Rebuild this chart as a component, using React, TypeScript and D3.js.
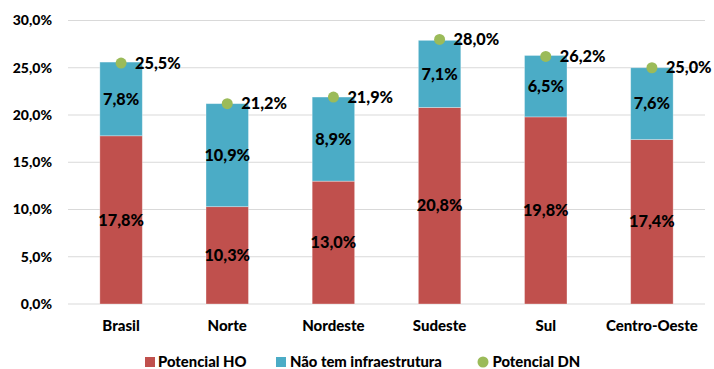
import React from "react";
import * as d3 from "d3";

const categories = ["Brasil", "Norte", "Nordeste", "Sudeste", "Sul", "Centro-Oeste"];
const potencialHO = [17.8, 10.3, 13.0, 20.8, 19.8, 17.4];
const naoTemInfra = [7.8, 10.9, 8.9, 7.1, 6.5, 7.6];
const potencialDN = [25.5, 21.2, 21.9, 28.0, 26.2, 25.0];
const yTicks = [0, 5, 10, 15, 20, 25, 30];

const W = 714;
const H = 369;
const M = { left: 68, right: 9, top: 20.5, bottom: 65 };

const COLORS = { ho: "#C0504D", infra: "#4BACC6", dn: "#9BBB59" };
const FONT = "Lato, 'Open Sans', sans-serif";
const WEIGHT = 900;

const fmt = (v: number) => v.toFixed(1).replace(".", ",") + "%";

export default function App() {
  const x = d3
    .scaleBand<string>()
    .domain(categories)
    .range([M.left, W - M.right])
    .paddingInner(0.6)
    .paddingOuter(0.3);
  const y = d3.scaleLinear().domain([0, 30]).range([H - M.bottom, M.top]);
  const bw = x.bandwidth();

  return (
    <svg
      width={W}
      height={H}
      style={{ position: "fixed", left: 0, top: 0, background: "#fff" }}
      fontFamily={FONT}
      fontWeight={WEIGHT}
    >
      {yTicks.map((t) => (
        <g key={t}>
          <line x1={M.left} x2={W - M.right} y1={y(t)} y2={y(t)} stroke="#d9d9d9" strokeWidth={1} />
          <text x={52} y={y(t)} dy="0.35em" textAnchor="end" fontSize={14} fill="#000">
            {fmt(t)}
          </text>
        </g>
      ))}

      {categories.map((c, i) => {
        const x0 = x(c)!;
        const cx = x0 + bw / 2;
        const ho = potencialHO[i];
        const nt = naoTemInfra[i];
        return (
          <g key={c}>
            <rect x={x0} y={y(ho)} width={bw} height={y(0) - y(ho)} fill={COLORS.ho} stroke="#fff" strokeOpacity={0.4} strokeWidth={0.8} />
            <rect x={x0} y={y(ho + nt)} width={bw} height={y(ho) - y(ho + nt)} fill={COLORS.infra} stroke="#fff" strokeOpacity={0.4} strokeWidth={0.8} />
            <text x={cx} y={y(ho / 2)} dy="0.35em" textAnchor="middle" fontSize={16.3} fill="#000">
              {fmt(ho)}
            </text>
            <text x={cx} y={y(ho + nt / 2)} dy="0.35em" textAnchor="middle" fontSize={16.3} fill="#000">
              {fmt(nt)}
            </text>
            <circle cx={cx} cy={y(potencialDN[i])} r={5.5} fill={COLORS.dn} />
            <text x={cx + 14} y={y(potencialDN[i])} dy="0.35em" textAnchor="start" fontSize={16.3} fill="#000">
              {fmt(potencialDN[i])}
            </text>
            <text x={cx} y={326} dy="0.35em" textAnchor="middle" fontSize={15} fill="#000">
              {c}
            </text>
          </g>
        );
      })}

      <g fontSize={14.8}>
        <rect x={145} y={357} width={10} height={10} fill={COLORS.ho} />
        <text x={158} y={362} dy="0.35em">Potencial HO</text>
        <rect x={276} y={357} width={10} height={10} fill={COLORS.infra} />
        <text x={290} y={362} dy="0.35em">Não tem infraestrutura</text>
        <circle cx={483} cy={362} r={5.5} fill={COLORS.dn} />
        <text x={492.5} y={362} dy="0.35em">Potencial DN</text>
      </g>
    </svg>
  );
}
